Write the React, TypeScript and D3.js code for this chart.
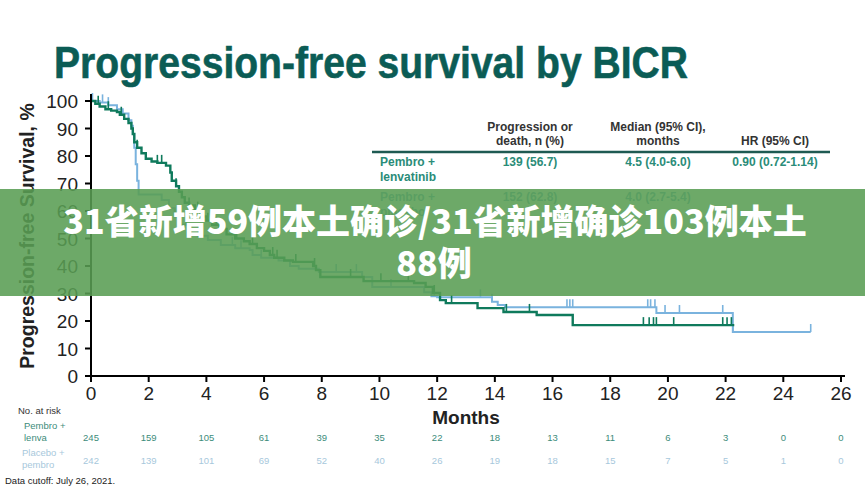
import React from "react";
import * as d3 from "d3";

// Kaplan-Meier steps (months, % progression-free)
const lenvaTimes = [0, 0.15, 0.3, 0.5, 0.7, 0.9, 1.0, 1.15, 1.3, 1.4, 1.45, 1.5, 1.6, 1.75, 1.9, 2.1, 2.3, 2.6, 2.75, 2.8, 2.95, 3.05, 3.15, 3.25, 3.4, 3.6, 3.8, 4.0, 4.2, 4.45, 4.7, 5.0, 5.3, 5.5, 5.75, 6.0, 6.2, 6.35, 6.7, 7.0, 7.7, 7.8, 7.95, 9.45, 11.2, 11.6, 11.85, 12.1, 12.3, 13.4, 14.3, 15.45, 16.7];
const lenvaSurv = [100, 99, 98, 97, 96.5, 96, 95, 93.5, 92, 90, 88, 85, 83, 81, 79, 78, 77.5, 76.5, 74, 71, 69, 67, 65, 63, 62, 60.5, 58, 56.5, 55, 53.5, 51.5, 50, 49, 48, 46.5, 45.5, 44, 43, 42, 41.5, 40, 38.5, 36, 34.5, 33.8, 32.4, 30.2, 27.6, 26.5, 24.7, 23.3, 22.2, 18.5];
const lenvaEnd = 22.3;
const lenvaCensor = [0.25, 0.6, 1.05, 1.6, 2.3, 2.45, 2.95, 3.4, 3.7, 4.05, 4.35, 5.05, 5.6, 6.3, 6.45, 7.1, 7.75, 9.0, 10.05, 11.0, 11.9, 12.5, 14.4, 15.2, 19.15, 19.35, 19.5, 19.6, 20.2, 21.9, 22.05, 22.2];

const placeboTimes = [0, 0.3, 0.6, 0.9, 1.1, 1.3, 1.4, 1.45, 1.5, 1.55, 1.6, 1.65, 2.45, 2.7, 2.9, 3.1, 3.4, 3.7, 4.05, 4.5, 5.0, 5.5, 5.6, 5.9, 6.5, 6.9, 7.2, 7.9, 9.4, 9.75, 11.55, 11.8, 12.0, 13.9, 14.1, 14.35, 19.6, 22.25];
const placeboSurv = [100, 99.5, 98.5, 97, 95.5, 93, 91, 88, 83, 77, 71, 66, 64, 61, 58, 55, 53, 51, 49.5, 47.6, 46.5, 45.8, 44, 43, 42, 40, 39, 37.8, 36, 32.4, 30.5, 29, 28.6, 27, 25.8, 25, 22.9, 16];
const placeboEnd = 24.95;
const placeboCensor = [0.05, 0.4, 0.6, 2.9, 3.3, 4.9, 5.2, 5.9, 8.5, 9.2, 10.4, 11.9, 13.5, 13.9, 16.5, 16.6, 16.7, 19.3, 19.4, 19.55, 19.9, 20.4, 21.9, 22.25, 24.95];

const xTicks = [0, 2, 4, 6, 8, 10, 12, 14, 16, 18, 20, 22, 24, 26];
const yTicks = [0, 10, 20, 30, 40, 50, 60, 70, 80, 90, 100];
const riskLenva = [245, 159, 105, 61, 39, 35, 22, 18, 13, 11, 6, 3, 0, 0];
const riskPlacebo = [242, 139, 101, 69, 52, 40, 26, 19, 18, 15, 7, 5, 1, 0];

const tableHeads = [["Progression or", "death, n (%)"], ["Median (95% CI),", "months"], ["", "HR (95% CI)"]];
const tableLenva = ["139 (56.7)", "4.5 (4.0-6.0)", "0.90 (0.72-1.14)"];
const tablePlacebo = ["152 (62.8)", "4.0 (2.7-5.4)", ""];

const GREEN = "#0f7a5c";
const BLUE = "#7ab3de";
const FONT = "'Liberation Sans', Arial, sans-serif";

const x = d3.scaleLinear().domain([0, 26]).range([91, 841]);
const y = d3.scaleLinear().domain([0, 100]).range([376, 101]);

const stepLine = d3
  .line<[number, number]>()
  .x((d) => x(d[0]))
  .y((d) => y(d[1]))
  .curve(d3.curveStepAfter);

function km(times: number[], surv: number[], end: number): [number, number][] {
  const pts: [number, number][] = times.map((t, i) => [t, surv[i]]);
  pts.push([end, surv[surv.length - 1]]);
  return pts;
}

function survAt(times: number[], surv: number[], t: number) {
  const i = d3.bisectRight(times, t) - 1;
  return surv[Math.max(0, i)];
}

const Curve = ({ times, surv, end, censor, color, width }: any) => (
  <g>
    <path d={stepLine(km(times, surv, end)) || ""} fill="none" stroke={color} strokeWidth={width} />
    {censor.map((t: number, i: number) => {
      const s = survAt(times, surv, t);
      return <line key={i} x1={x(t)} x2={x(t)} y1={y(s)} y2={y(s) - 8} stroke={color} strokeWidth={1.6} />;
    })}
  </g>
);

const App = () => {
  const colX = [530, 658, 775];
  return (
    <svg width={865} height={487} style={{ position: "absolute", left: 0, top: 0, background: "#fff" }} fontFamily={FONT}>
      <rect width={865} height={487} fill="#fff" />
      <text x={54} y={78} fontSize={44} fontWeight="bold" fill="#0b5c55" stroke="#0b5c55" strokeWidth={0.6}
        textLength={634} lengthAdjust="spacingAndGlyphs"
        fontFamily="'Liberation Sans Narrow', 'Liberation Sans', Arial, sans-serif">
        Progression-free survival by BICR
      </text>

      {/* summary table */}
      {tableHeads.map((h, i) => (
        <g key={i} fontSize={12} fontWeight="bold" fill="#333" textAnchor="middle">
          <text x={colX[i]} y={131}>{h[0]}</text>
          <text x={colX[i]} y={145}>{h[1]}</text>
        </g>
      ))}
      <line x1={372} x2={830} y1={152} y2={152} stroke="#1e5a52" strokeWidth={2.5} />
      <g fontSize={12} fontWeight="bold" fill="#2a8c78">
        <text x={380} y={166}>Pembro +</text>
        <text x={380} y={181}>lenvatinib</text>
        {tableLenva.map((v, i) => (
          <text key={i} x={colX[i]} y={166} textAnchor="middle">{v}</text>
        ))}
      </g>
      <g fontSize={12} fontWeight="bold" fill="#5fa3c9">
        <text x={380} y={201}>Pembro +</text>
        <text x={380} y={216}>placebo</text>
        {tablePlacebo.map((v, i) => (
          <text key={i} x={colX[i]} y={201} textAnchor="middle">{v}</text>
        ))}
      </g>

      {/* curves */}
      <Curve times={placeboTimes} surv={placeboSurv} end={placeboEnd} censor={placeboCensor} color={BLUE} width={2} />
      <Curve times={lenvaTimes} surv={lenvaSurv} end={lenvaEnd} censor={lenvaCensor} color={GREEN} width={2.4} />

      {/* axes */}
      <line x1={91} x2={91} y1={94} y2={377} stroke="#000" strokeWidth={2} />
      <line x1={90} x2={845} y1={376} y2={376} stroke="#000" strokeWidth={2} />
      {yTicks.map((t) => (
        <g key={t}>
          <line x1={85} x2={91} y1={y(t)} y2={y(t)} stroke="#000" strokeWidth={2} />
          <text x={78} y={y(t) + 7} textAnchor="end" fontSize={19} fill="#222">{t}</text>
        </g>
      ))}
      {xTicks.map((t) => (
        <g key={t}>
          <line x1={x(t)} x2={x(t)} y1={376} y2={382} stroke="#000" strokeWidth={2} />
          <text x={x(t)} y={400} textAnchor="middle" fontSize={19} fill="#222">{t}</text>
        </g>
      ))}
      <text transform="translate(34,236) rotate(-90)" textAnchor="middle" fontSize={19.5} fontWeight="bold" fill="#222">
        Progression-free Survival, %
      </text>
      <text x={466} y={424} textAnchor="middle" fontSize={19} fontWeight="bold" fill="#222">Months</text>

      {/* number at risk */}
      <g fontSize={9.5}>
        <text x={18} y={414} fill="#333">No. at risk</text>
        <text x={24} y={429} fill="#3d8c7a">Pembro +</text>
        <text x={24} y={441} fill="#3d8c7a">lenva</text>
        <text x={22} y={456} fill="#a7c8dc">Placebo +</text>
        <text x={22} y={468} fill="#a7c8dc">pembro</text>
        {riskLenva.map((n, i) => (
          <text key={"l" + i} x={x(xTicks[i])} y={441} textAnchor="middle" fill="#3d8c7a">{n}</text>
        ))}
        {riskPlacebo.map((n, i) => (
          <text key={"p" + i} x={x(xTicks[i])} y={464} textAnchor="middle" fill="#a7c8dc">{n}</text>
        ))}
        <text x={5} y={484} fill="#222">Data cutoff: July 26, 2021.</text>
      </g>

      {/* overlay banner */}
      <rect x={0} y={189} width={865} height={107} fill="#599d53" opacity={0.88} />
      <g fontFamily="'Noto Sans CJK SC', sans-serif" fontWeight="900" fontSize={34} fill="#fff" textAnchor="middle">
        <text x={435} y={234}>31省新增59例本土确诊/31省新增确诊103例本土</text>
        <text x={434} y={276}>88例</text>
      </g>
    </svg>
  );
};

export default App;
